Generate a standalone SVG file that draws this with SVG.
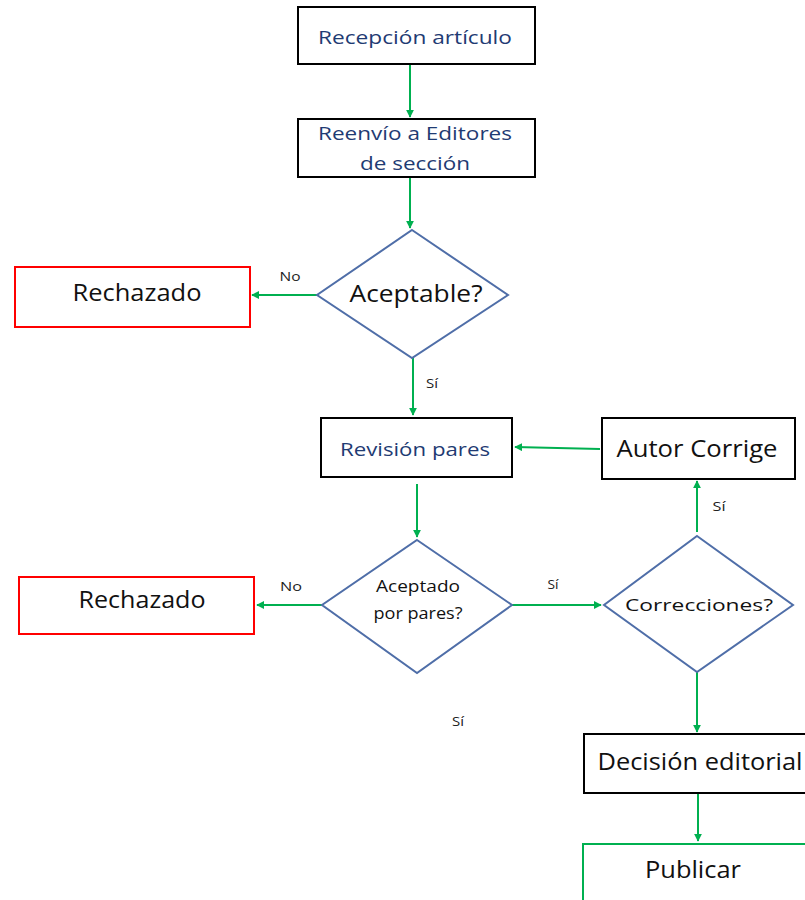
<svg xmlns="http://www.w3.org/2000/svg" width="805" height="900" viewBox="0 0 805 900">
<defs>
<marker id="ah" viewBox="0 0 10 10" refX="9" refY="5" markerWidth="4" markerHeight="4" orient="auto" markerUnits="strokeWidth">
<path d="M0,0 L10,5 L0,10 z" fill="#00B050"/>
</marker>
<style>
.box{fill:#fff;stroke:#000;stroke-width:2}
.rej{fill:#fff;stroke:#FF0000;stroke-width:2}
.pub{fill:#fff;stroke:#00B050;stroke-width:2}
.dia{fill:#fff;stroke:#4F6EA8;stroke-width:2}
.c{fill:none;stroke:#00B050;stroke-width:2;marker-end:url(#ah)}
text{font-family:"Open Sans","Noto Sans","Liberation Sans",sans-serif;text-anchor:middle}
.bl{fill:#1F3B73;font-size:18px}
.bk{fill:#111;font-size:24px}
.sm{fill:#222;font-size:13px}
.md{fill:#111;font-size:17px}
</style>
</defs>
<rect width="805" height="900" fill="#fff"/>
<g id="connectors">
<line class="c" x1="410" y1="64" x2="410" y2="117"/>
<line class="c" x1="410" y1="178" x2="410" y2="228"/>
<line class="c" x1="317" y1="295" x2="252" y2="295"/>
<line class="c" x1="413" y1="358" x2="413" y2="415"/>
<line class="c" x1="600" y1="449" x2="515" y2="447"/>
<line class="c" x1="417" y1="484" x2="417" y2="537"/>
<line class="c" x1="322" y1="605" x2="257" y2="605"/>
<line class="c" x1="512" y1="605" x2="601" y2="605"/>
<line class="c" x1="697" y1="532" x2="697" y2="481"/>
<line class="c" x1="697" y1="672" x2="697" y2="732"/>
<line class="c" x1="698" y1="794" x2="698" y2="841"/>
<text class="sm" x="290" y="281" textLength="21" lengthAdjust="spacingAndGlyphs">No</text>
<text class="sm" x="432" y="388" textLength="12" lengthAdjust="spacingAndGlyphs">Sí</text>
<text class="sm" x="719" y="511" textLength="13" lengthAdjust="spacingAndGlyphs">Sí</text>
<text class="sm" x="291" y="591" textLength="22" lengthAdjust="spacingAndGlyphs">No</text>
<text class="sm" x="553" y="589" textLength="11" lengthAdjust="spacingAndGlyphs">Sí</text>
<text class="sm" x="458" y="726" textLength="12" lengthAdjust="spacingAndGlyphs">Sí</text>
</g>
<g id="recepcion">
<rect class="box" x="298" y="7" width="237" height="57"/>
<text class="bl" x="415" y="44" textLength="194" lengthAdjust="spacingAndGlyphs">Recepción artículo</text>
</g>
<g id="reenvio">
<rect class="box" x="298" y="119" width="237" height="58"/>
<text class="bl" x="415" y="140" textLength="194" lengthAdjust="spacingAndGlyphs">Reenvío a Editores</text>
<text class="bl" x="415" y="170" textLength="110" lengthAdjust="spacingAndGlyphs">de sección</text>
</g>
<g id="aceptable">
<polygon class="dia" points="412,230 508,295 412,358 317,295"/>
<text class="bk" x="416" y="302" textLength="133" lengthAdjust="spacingAndGlyphs">Aceptable?</text>
</g>
<g id="rechazado1">
<rect class="rej" x="15" y="267" width="235" height="60"/>
<text class="bk" x="137" y="301" textLength="129" lengthAdjust="spacingAndGlyphs">Rechazado</text>
</g>
<g id="revision">
<rect class="box" x="321" y="418" width="191" height="59"/>
<text class="bl" x="415" y="456" textLength="150" lengthAdjust="spacingAndGlyphs">Revisión pares</text>
</g>
<g id="autor">
<rect class="box" x="602" y="418" width="193" height="61"/>
<text class="bk" x="697" y="457" textLength="161" lengthAdjust="spacingAndGlyphs">Autor Corrige</text>
</g>
<g id="aceptado">
<polygon class="dia" points="417,540 512,605 417,673 322,605"/>
<text class="md" x="418" y="592" textLength="84" lengthAdjust="spacingAndGlyphs">Aceptado</text>
<text class="md" x="418" y="619" textLength="89" lengthAdjust="spacingAndGlyphs">por pares?</text>
</g>
<g id="rechazado2">
<rect class="rej" x="19" y="577" width="235" height="57"/>
<text class="bk" x="142" y="608" textLength="127" lengthAdjust="spacingAndGlyphs">Rechazado</text>
</g>
<g id="correcciones">
<polygon class="dia" points="697,536 793,605 697,672 604,605"/>
<text class="md" x="699" y="611" textLength="148" lengthAdjust="spacingAndGlyphs">Correcciones?</text>
</g>
<g id="decision">
<rect class="box" x="584" y="734" width="240" height="59"/>
<text class="bk" x="700" y="770" textLength="205" lengthAdjust="spacingAndGlyphs">Decisión editorial</text>
</g>
<g id="publicar">
<rect class="pub" x="583" y="844" width="240" height="70"/>
<text class="bk" x="693" y="878" textLength="96" lengthAdjust="spacingAndGlyphs">Publicar</text>
</g>
</svg>
